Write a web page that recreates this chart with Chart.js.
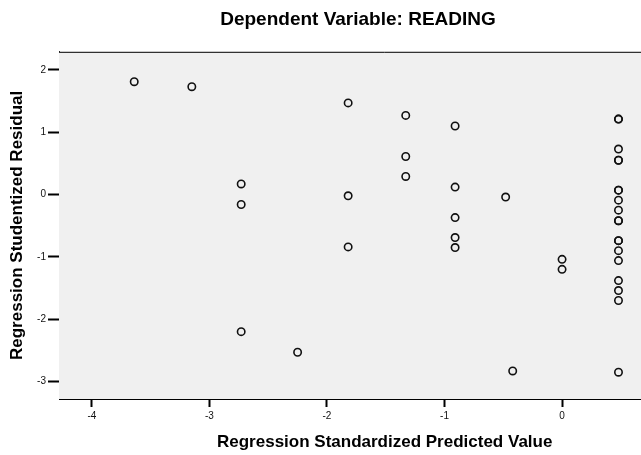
<!DOCTYPE html>
<html>
<head>
<meta charset="utf-8">
<script src="https://cdn.jsdelivr.net/npm/chart.js@4.4.1/dist/chart.umd.min.js"></script>
<style>
  html, body { margin: 0; padding: 0; background: #fff; overflow: hidden; }
  #wrap { width: 716px; height: 455px; }
</style>
</head>
<body>
<div id="wrap"><canvas id="residualChart" width="716" height="455"></canvas></div>
<script>
// Valores (previsto padronizado x resíduo studentizado)
const predictedValues = [
  -3.64, -3.15, -2.73, -2.73, -2.73, -2.25, -1.82, -1.82, -1.82,
  -1.33, -1.33, -1.33, -0.91, -0.91, -0.91, -0.91, -0.91, -0.48, -0.42,
  0.0, 0.0,
  0.48, 0.48, 0.48, 0.48, 0.48, 0.48, 0.48, 0.48, 0.48, 0.48,
  0.48, 0.48, 0.48, 0.48, 0.48, 0.48, 0.48, 0.48, 0.48
];
const residualValues = [
  1.81, 1.73, 0.17, -0.16, -2.20, -2.53, 1.47, -0.02, -0.84,
  1.27, 0.61, 0.29, 1.10, 0.12, -0.37, -0.69, -0.85, -0.04, -2.83,
  -1.04, -1.20,
  1.21, 1.21, 0.73, 0.55, 0.55, 0.07, 0.07, -0.09, -0.25, -0.42,
  -0.42, -0.74, -0.74, -0.90, -1.06, -1.38, -1.54, -1.70, -2.85
];
const xTickValues = [-4, -3, -2, -1, 0];
const yTickValues = [-3, -2, -1, 0, 1, 2];

const chartTitle = "Dependent Variable: READING";
const xAxisTitle = "Regression Standardized Predicted Value";
const yAxisTitle = "Regression Studentized Residual";

// Fundo cinza da área do gráfico e linha de cima do quadro
const plotFrame = {
  id: "plotFrame",
  beforeDatasetsDraw(chart) {
    const { ctx, chartArea } = chart;
    ctx.save();
    ctx.fillStyle = "#f0f0f0";
    ctx.fillRect(chartArea.left, chartArea.top, chartArea.right - chartArea.left, chartArea.bottom - chartArea.top);
    ctx.strokeStyle = "#000";
    ctx.lineWidth = 1;
    ctx.beginPath();
    ctx.moveTo(chartArea.left, chartArea.top + 0.5);
    ctx.lineTo(chartArea.right, chartArea.top + 0.5);
    ctx.stroke();
    ctx.restore();
  }
};

function initResidualChart() {
  const points = predictedValues.map((x, i) => ({ x: x, y: residualValues[i] }));
  const ctx = document.getElementById("residualChart").getContext("2d");
  const font = "'Liberation Sans', Arial, sans-serif";

  new Chart(ctx, {
    type: "scatter",
    data: {
      datasets: [{
        data: points,
        pointStyle: "circle",
        pointRadius: 3.7,
        pointBorderWidth: 1.6,
        borderColor: "#111",
        backgroundColor: "rgba(0,0,0,0)"
      }]
    },
    options: {
      responsive: false,
      animation: false,
      layout: { padding: 0 },
      plugins: {
        legend: { display: false },
        tooltip: { enabled: false },
        title: {
          display: true,
          text: chartTitle,
          color: "#000",
          font: { family: font, size: 19, weight: "bold" },
          padding: { top: 8, bottom: 21 }
        }
      },
      scales: {
        x: {
          type: "linear",
          min: -4.28,
          max: 1.262,
          afterBuildTicks: s => { s.ticks = xTickValues.map(v => ({ value: v })); },
          afterFit: s => { s.height = 56; },
          grid: { drawOnChartArea: false, drawTicks: true, tickLength: 8, tickWidth: 2, tickColor: "#000" },
          border: { display: true, color: "#000", width: 1 },
          ticks: { color: "#111", font: { family: font, size: 10 }, padding: 3, maxRotation: 0 },
          title: {
            display: true,
            text: xAxisTitle,
            color: "#000",
            font: { family: font, size: 17, weight: "bold" },
            padding: { top: 0, bottom: 2 }
          }
        },
        y: {
          type: "linear",
          min: -3.28,
          max: 2.29,
          afterBuildTicks: s => { s.ticks = yTickValues.map(v => ({ value: v })); },
          afterFit: s => { s.width = 59; },
          grid: { drawOnChartArea: false, drawTicks: true, tickLength: 11, tickWidth: 2, tickColor: "#000" },
          border: { display: true, color: "#000", width: 1 },
          ticks: { color: "#111", font: { family: font, size: 10 }, padding: 2 },
          title: {
            display: true,
            text: yAxisTitle,
            color: "#000",
            font: { family: font, size: 17, weight: "bold" },
            padding: { top: 7, bottom: 0 }
          }
        }
      }
    },
    plugins: [plotFrame]
  });
}

window.onload = function() {
  initResidualChart();
};
</script>
</body>
</html>
